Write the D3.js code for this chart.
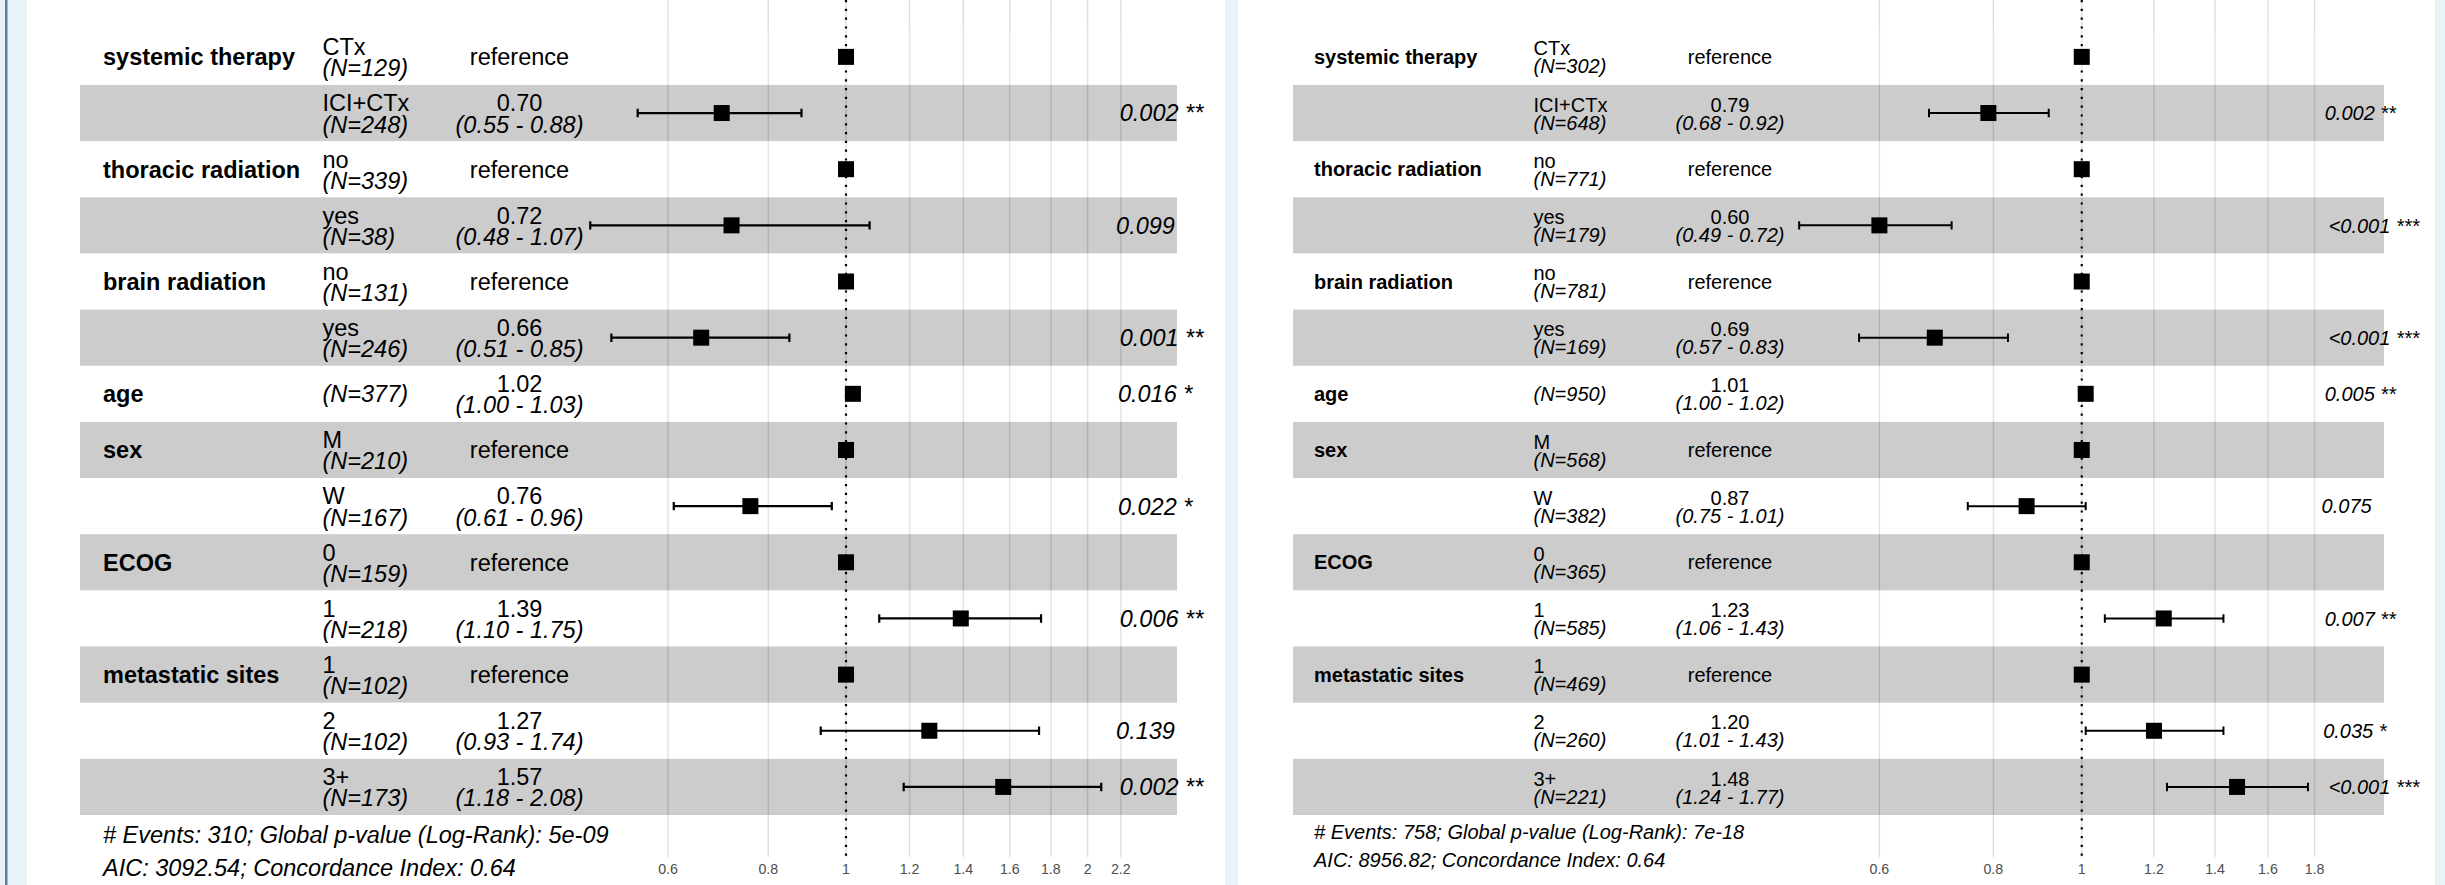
<!DOCTYPE html>
<html>
<head>
<meta charset="utf-8">
<script src="https://cdn.jsdelivr.net/npm/d3@7"></script>
<style>
  html, body { margin: 0; padding: 0; background: #e9f2f6; }
  svg { display: block; font-family: "Liberation Sans", Arial, Helvetica, sans-serif; }
  text.pre { white-space: pre; }
</style>
</head>
<body>
<svg id="chart" width="2445" height="885"></svg>
<script>
// Rows shared by both Cox models
const variables = ["systemic therapy", "", "thoracic radiation", "", "brain radiation", "", "age",
                   "sex", "", "ECOG", "", "metastatic sites", "", ""];
const levels = ["CTx", "ICI+CTx", "no", "yes", "no", "yes", "", "M", "W", "0", "1", "1", "2", "3+"];

// Model A
const countsA = [129, 248, 339, 38, 131, 246, 377, 210, 167, 159, 218, 102, 102, 173];
const hrA     = [1, 0.70, 1, 0.72, 1, 0.66, 1.02, 1, 0.76, 1, 1.39, 1, 1.27, 1.57];
const lowA    = [null, 0.55, null, 0.48, null, 0.51, 1.00, null, 0.61, null, 1.10, null, 0.93, 1.18];
const highA   = [null, 0.88, null, 1.07, null, 0.85, 1.03, null, 0.96, null, 1.75, null, 1.74, 2.08];
const pA      = ["", "0.002", "", "0.099", "", "0.001", "0.016", "", "0.022", "", "0.006", "", "0.139", "0.002"];
const starsA  = ["", "**", "", "", "", "**", "*", "", "*", "", "**", "", "", "**"];
const ticksA  = [0.6, 0.8, 1, 1.2, 1.4, 1.6, 1.8, 2, 2.2];
const footerA = ["# Events: 310; Global p-value (Log-Rank): 5e-09",
                 "AIC: 3092.54; Concordance Index: 0.64"];

// Model B
const countsB = [302, 648, 771, 179, 781, 169, 950, 568, 382, 365, 585, 469, 260, 221];
const hrB     = [1, 0.79, 1, 0.60, 1, 0.69, 1.01, 1, 0.87, 1, 1.23, 1, 1.20, 1.48];
const lowB    = [null, 0.68, null, 0.49, null, 0.57, 1.00, null, 0.75, null, 1.06, null, 1.01, 1.24];
const highB   = [null, 0.92, null, 0.72, null, 0.83, 1.02, null, 1.01, null, 1.43, null, 1.43, 1.77];
const pB      = ["", "0.002", "", "<0.001", "", "<0.001", "0.005", "", "0.075", "", "0.007", "", "0.035", "<0.001"];
const starsB  = ["", "**", "", "***", "", "***", "**", "", "", "", "**", "", "*", "***"];
const ticksB  = [0.6, 0.8, 1, 1.2, 1.4, 1.6, 1.8];
const footerB = ["# Events: 758; Global p-value (Log-Rank): 7e-18",
                 "AIC: 8956.82; Concordance Index: 0.64"];

const W = 2445, H = 885;
const svg = d3.select("#chart");

// page frame
svg.append("rect").attr("width", W).attr("height", H).attr("fill", "#e9f2f6");
svg.append("rect").attr("x", 5).attr("y", 0).attr("width", 2.5).attr("height", H).attr("fill", "#4f86ad");

const y = d3.scaleBand().domain(d3.range(levels.length)).range([28.8, 815]).paddingInner(0).paddingOuter(0);

const panels = [
  { left: 27, right: 1225, band: [80, 1177], varX: 103, levelX: 322.5, estX: 519.5, starsX: 1103,
    axis: [668, 1120.8], fs: 23.5, errW: 2.2,
    counts: countsA, hr: hrA, low: lowA, high: highA, p: pA, stars: starsA, ticks: ticksA, footer: footerA },
  { left: 1238, right: 2435, band: [1293, 2384], varX: 1314, levelX: 1533.5, estX: 1730, starsX: 2310.5,
    axis: [1879.4, 2314.6], fs: 20.0, errW: 2.0,
    counts: countsB, hr: hrB, low: lowB, high: highB, p: pB, stars: starsB, ticks: ticksB, footer: footerB }
];

panels.forEach(P => {
  const g = svg.append("g");
  const x = d3.scaleLog().domain([P.ticks[0], P.ticks[P.ticks.length - 1]]).range(P.axis);
  const fs = P.fs;
  const rows = d3.range(levels.length);
  const cy = i => y(i) + y.bandwidth() / 2;

  g.append("rect").attr("x", P.left).attr("y", 0).attr("width", P.right - P.left).attr("height", H).attr("fill", "#ffffff");

  // vertical grid lines at the axis breaks
  g.append("g").selectAll("line").data(P.ticks).join("line")
    .attr("x1", d => x(d)).attr("x2", d => x(d))
    .attr("y1", 0).attr("y2", 857)
    .attr("stroke", "#dedede").attr("stroke-width", 1.4);

  // alternating row bands
  g.append("g").selectAll("rect").data(rows).join("rect")
    .attr("x", P.band[0]).attr("width", P.band[1] - P.band[0])
    .attr("y", i => y(i)).attr("height", y.bandwidth())
    .attr("fill", i => i % 2 === 1 ? "rgba(0,0,0,0.2)" : "rgba(255,255,255,0.2)");

  // hazard ratio squares
  g.append("g").selectAll("rect").data(rows).join("rect")
    .attr("x", i => x(P.hr[i]) - 8).attr("y", i => cy(i) - 8)
    .attr("width", 16).attr("height", 16).attr("fill", "#000");

  // confidence intervals
  const ci = rows.filter(i => P.low[i] !== null);
  const capH = y.bandwidth() * 0.15 / 2;
  const eb = g.append("g").attr("stroke", "#000").attr("stroke-width", P.errW).attr("fill", "none");
  eb.selectAll("path").data(ci).join("path")
    .attr("d", i => {
      const a = x(P.low[i]), b = x(P.high[i]), c = cy(i);
      return `M${a},${c - capH}V${c + capH}M${a},${c}H${b}M${b},${c - capH}V${c + capH}`;
    });

  // reference line at HR = 1
  g.append("line").attr("x1", x(1)).attr("x2", x(1)).attr("y1", 0).attr("y2", 857)
    .attr("stroke", "#000").attr("stroke-width", 2.2).attr("stroke-dasharray", "2.2,6.6");

  // variable names
  g.append("g").selectAll("text").data(rows.filter(i => variables[i] !== "")).join("text")
    .attr("x", P.varX).attr("y", i => cy(i) + 0.36 * fs)
    .attr("font-size", fs).attr("font-weight", "bold").text(i => variables[i]);

  // level names and group sizes
  g.append("g").selectAll("text").data(rows.filter(i => levels[i] !== "")).join("text")
    .attr("x", P.levelX).attr("y", i => cy(i) - 0.07 * fs)
    .attr("font-size", fs).text(i => levels[i]);
  g.append("g").selectAll("text").data(rows).join("text")
    .attr("x", P.levelX).attr("y", i => levels[i] === "" ? cy(i) + 0.36 * fs : cy(i) + 0.83 * fs)
    .attr("font-size", fs).attr("font-style", "italic").text(i => `(N=${P.counts[i]})`);

  // estimates and intervals
  g.append("g").selectAll("text").data(rows).join("text")
    .attr("x", P.estX).attr("text-anchor", "middle")
    .attr("y", i => P.low[i] === null ? cy(i) + 0.36 * fs : cy(i) - 0.07 * fs)
    .attr("font-size", fs).text(i => P.low[i] === null ? "reference" : P.hr[i].toFixed(2));
  g.append("g").selectAll("text").data(ci).join("text")
    .attr("x", P.estX).attr("text-anchor", "middle").attr("y", i => cy(i) + 0.83 * fs)
    .attr("font-size", fs).attr("font-style", "italic")
    .text(i => `(${P.low[i].toFixed(2)} - ${P.high[i].toFixed(2)})`);

  // p-values with significance stars
  const pt = g.append("g").selectAll("text").data(rows.filter(i => P.p[i] !== "")).join("text")
    .attr("class", "pre").attr("y", i => cy(i) + 0.36 * fs)
    .attr("font-size", fs).attr("font-style", "italic")
    .text(i => `${P.p[i]} ${P.stars[i]}`);
  pt.attr("x", function () { return P.starsX + 0.2 * this.getComputedTextLength(); });

  // model summary
  g.append("g").selectAll("text").data(P.footer).join("text")
    .attr("x", P.varX).attr("y", (d, k) => 815 + (k === 0 ? 1.18 : 2.61) * fs)
    .attr("font-size", fs).attr("font-style", "italic").text(d => d);

  // axis labels
  g.append("g").selectAll("text").data(P.ticks).join("text")
    .attr("x", d => x(d)).attr("y", 874).attr("text-anchor", "middle")
    .attr("font-size", 14.2).attr("fill", "#4d4d4d").text(d => d3.format("~g")(d));
});
</script>
</body>
</html>
